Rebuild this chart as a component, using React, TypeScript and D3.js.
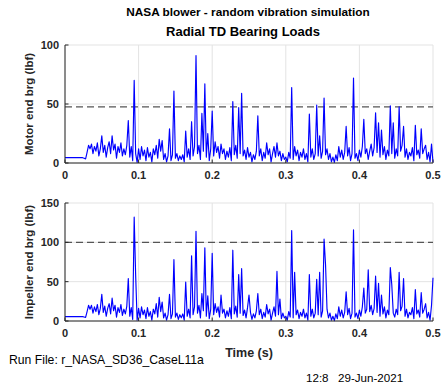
import React, { useEffect, useRef } from "react";
import * as d3 from "d3";

// sample spacing of the simulation output (s)
const sampleDt = 0.002;

const xTicks = [0, 0.1, 0.2, 0.3, 0.4, 0.5];
const motorTicks = [0, 50, 100];
const impellerTicks = [0, 50, 100, 150];
const motorLimit = 47.5;
const impellerLimit = 100;

// motor end bearing load (lbf)
const motorLoad = [
  4.5, 4.5, 4.6, 4.5, 4.5, 4.5, 4.6, 4.5, 4.5, 4.5, 4.6, 4.5, 4.5, 4.0, 3.5, 9, 15,
  12, 16, 8, 14, 10, 17, 6, 12, 23, 9, 15, 5, 13, 18, 8, 23, 11, 16, 4, 14, 9, 17, 6, 12, 7, 15, 36, 5, 14, 2, 70, 8, 0.5,
  12, 3, 14, 6, 11, 2, 13, 5, 9, 1, 12, 7, 15, 4, 20, 10, 19, 3, 8, 1, 6, 29, 2, 7, 61, 4, 8, 2, 6, 3, 7, 1, 27, 5, 12, 3,
  35, 6, 14, 91, 8, 15, 3, 42, 10, 67, 5, 25, 2, 12,
  44, 6, 18, 9, 14, 4, 16, 8, 12, 3, 10, 5, 13, 2, 52, 7, 15, 4, 47, 8, 59, 6, 11, 3, 13, 5, 9, 1, 7, 3, 10, 40, 6, 12, 2,
  9, 4, 17, 7, 12, 1, 8, 14, 5, 17, 6, 10, 2, 8, 3,
  5, 1, 9, 4, 64, 3, 14, 6, 11, 2, 9, 5, 12, 3, 8, 1, 41.5, 5, 12, 3, 8, 49, 6, 23, 4, 10, 55, 7, 12, 3, 8, 1, 5, 0.5, 7, 2,
  14, 5, 11, 3, 9, 31, 6, 13, 2, 8, 72, 4, 8, 2,
  11, 5, 14, 37, 8, 12, 3, 10, 16, 6, 13, 42.6, 9, 34, 5, 28, 7, 14, 3, 11, 6, 48.5, 8, 34, 4, 12, 6, 47.7, 10, 15,
  31, 5, 12, 3, 9, 6, 13, 2, 32, 7, 11, 4, 29, 8, 12, 15, 3, 9, 1, 16, 0.5,
];

// impeller end bearing load (lbf)
const impellerLoad = [
  5.5, 5.5, 5.6, 5.5, 5.5, 5.5, 5.6, 5.5, 5.5, 5.5, 5.6, 5.5, 5.5, 5, 4.5, 12, 20,
  15, 20, 10, 18, 12, 21, 8, 16, 34, 11, 19, 6, 16, 22, 9, 29, 13, 20, 5, 17, 11, 21, 7, 15, 9, 19, 54, 6, 17, 2, 132, 58, 1,
  16, 4, 18, 8, 14, 3, 17, 6, 12, 1, 15, 9, 22, 5, 30, 12, 24, 4, 10, 1, 8, 34, 3, 9, 78, 5, 10, 2, 8, 4, 9, 1, 49.6, 6, 15, 4,
  83, 8, 18, 114, 10, 20, 4, 35, 13, 93, 6, 32, 3, 15,
  86, 8, 22, 11, 18, 5, 33, 10, 15, 4, 13, 6, 17, 3, 90, 9, 19, 5, 59, 10, 66.5, 7, 14, 4, 17, 33, 11, 2, 9, 4, 13, 35, 8, 15, 3,
  11, 5, 21, 9, 15, 1, 10, 18, 6, 63, 8, 28, 3, 10, 4,
  6, 1, 12, 5, 115, 4, 62, 8, 14, 3, 11, 6, 15, 4, 10, 1, 59, 6, 15, 4, 10, 53, 8, 62, 5, 13, 104, 71.5, 15, 4, 10, 1, 6, 0.5, 9, 3,
  18, 6, 14, 4, 11, 37, 8, 16, 3, 10, 116, 5, 10, 3,
  14, 6, 18, 42, 10, 15, 65, 12, 20, 8, 16, 57, 11, 48, 6, 33, 9, 18, 4, 14, 8, 68, 46, 10, 5, 15, 8, 62, 13, 19,
  54, 6, 15, 4, 11, 8, 17, 3, 40, 9, 14, 5, 36, 10, 15, 22, 4, 11, 1, 20, 55,
];

const W = 443, H = 383;
const left = 65, right = 433;
const font = "'Liberation Sans', Arial, Helvetica, sans-serif";

export default function App() {
  const ref = useRef<SVGSVGElement>(null);

  useEffect(() => {
    const svg = d3.select(ref.current);
    svg.selectAll("*").remove();
    svg.append("rect").attr("width", W).attr("height", H).attr("fill", "#fff");

    const x = d3.scaleLinear().domain([0, 0.5]).range([left, right]);

    const drawPanel = (values: number[], top: number, bottom: number, maxY: number,
      yTicks: number[], limit: number, label: string) => {
      const y = d3.scaleLinear().domain([0, maxY]).range([bottom, top]);
      const g = svg.append("g");

      // grid
      g.selectAll(".gx").data(xTicks).enter().append("line")
        .attr("x1", d => x(d)).attr("x2", d => x(d))
        .attr("y1", top).attr("y2", bottom)
        .attr("stroke", "#e3e3e3").attr("stroke-width", 1);
      g.selectAll(".gy").data(yTicks).enter().append("line")
        .attr("x1", left).attr("x2", right)
        .attr("y1", d => y(d)).attr("y2", d => y(d))
        .attr("stroke", "#e3e3e3").attr("stroke-width", 1);

      // limit line
      g.append("line")
        .attr("x1", left).attr("x2", right)
        .attr("y1", y(limit)).attr("y2", y(limit))
        .attr("stroke", "#555").attr("stroke-width", 1.3)
        .attr("stroke-dasharray", "7,4");

      const line = d3.line<number>()
        .x((_, i) => x(i * sampleDt))
        .y(d => y(d));
      g.append("path")
        .datum(values)
        .attr("d", line)
        .attr("fill", "none")
        .attr("stroke", "#0000ff")
        .attr("stroke-width", 1.15)
        .attr("stroke-linejoin", "round");

      // axes
      g.append("line").attr("x1", left).attr("x2", left).attr("y1", top).attr("y2", bottom)
        .attr("stroke", "#262626");
      g.append("line").attr("x1", left).attr("x2", right).attr("y1", bottom).attr("y2", bottom)
        .attr("stroke", "#262626");
      g.selectAll(".ty").data(yTicks).enter().append("line")
        .attr("x1", left).attr("x2", left + 3.5)
        .attr("y1", d => y(d)).attr("y2", d => y(d))
        .attr("stroke", "#262626");
      g.selectAll(".tx").data(xTicks).enter().append("line")
        .attr("x1", d => x(d)).attr("x2", d => x(d))
        .attr("y1", bottom).attr("y2", bottom - 3.5)
        .attr("stroke", "#262626");

      g.selectAll(".ly").data(yTicks).enter().append("text")
        .attr("x", left - 6).attr("y", d => y(d) + 4)
        .attr("text-anchor", "end")
        .attr("font-family", font).attr("font-size", 11).attr("font-weight", "bold")
        .attr("fill", "#262626")
        .text(d => d);
      g.selectAll(".lx").data(xTicks).enter().append("text")
        .attr("x", d => x(d)).attr("y", bottom + 16)
        .attr("text-anchor", "middle")
        .attr("font-family", font).attr("font-size", 11).attr("font-weight", "bold")
        .attr("fill", "#262626")
        .text(d => d);

      g.append("text")
        .attr("transform", `translate(33,${(top + bottom) / 2}) rotate(-90)`)
        .attr("text-anchor", "middle")
        .attr("font-family", font).attr("font-size", 11.5).attr("font-weight", "bold")
        .attr("fill", "#262626")
        .text(label);
    };

    drawPanel(motorLoad, 45, 163, 100, motorTicks, motorLimit, "Motor end brg (lbf)");
    drawPanel(impellerLoad, 203, 321, 150, impellerTicks, impellerLimit, "Impeller end brg (lbf)");

    svg.append("text").attr("x", 248).attr("y", 16).attr("text-anchor", "middle")
      .attr("font-family", font).attr("font-size", 11.8).attr("font-weight", "bold")
      .attr("fill", "#000").text("NASA blower - random vibration simulation");
    svg.append("text").attr("x", 243).attr("y", 36).attr("text-anchor", "middle")
      .attr("font-family", font).attr("font-size", 13).attr("font-weight", "bold")
      .attr("fill", "#000").text("Radial TD Bearing Loads");
    svg.append("text").attr("x", 249).attr("y", 357).attr("text-anchor", "middle")
      .attr("font-family", font).attr("font-size", 12.5).attr("font-weight", "bold")
      .attr("fill", "#262626").text("Time (s)");
    svg.append("text").attr("x", 9).attr("y", 364)
      .attr("font-family", font).attr("font-size", 12.2)
      .attr("fill", "#000").text("Run File: r_NASA_SD36_CaseL11a");
    svg.append("text").attr("x", 306).attr("y", 382)
      .attr("font-family", font).attr("font-size", 11.6)
      .attr("fill", "#000").text("12:8");
    svg.append("text").attr("x", 338).attr("y", 382)
      .attr("font-family", font).attr("font-size", 11.6)
      .attr("fill", "#000").text("29-Jun-2021");
  }, []);

  return (
    <svg ref={ref} width={W} height={H}
      style={{ position: "absolute", left: 0, top: 0, display: "block" }} />
  );
}
